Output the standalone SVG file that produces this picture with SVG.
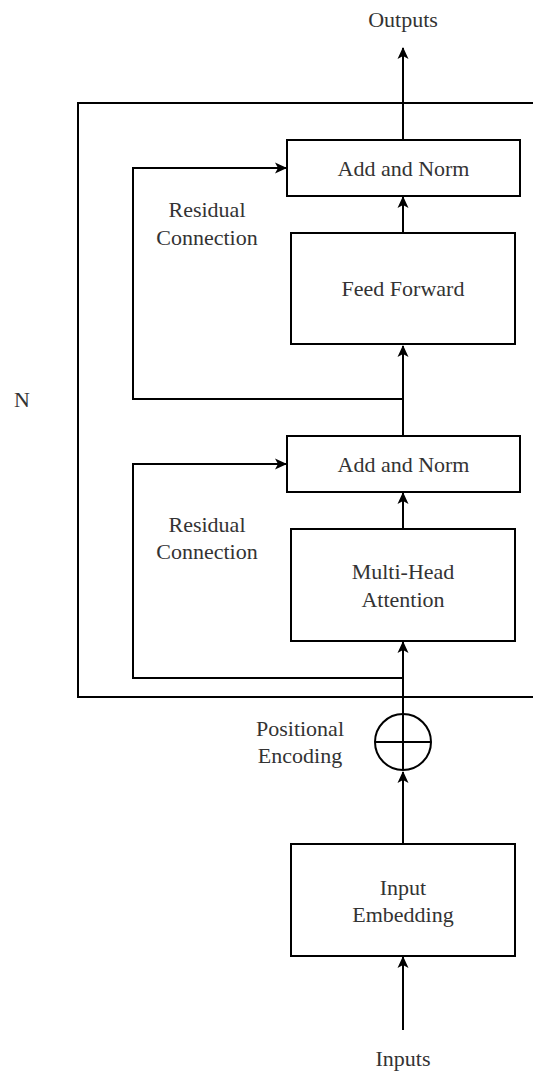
<svg xmlns="http://www.w3.org/2000/svg" width="533" height="1074" viewBox="0 0 533 1074">
  <style>
    .box { fill: #ffffff; stroke: #000000; stroke-width: 2; }
    .frame { fill: none; stroke: #000000; stroke-width: 2; }
    .wire { fill: none; stroke: #000000; stroke-width: 2; }
    .lbl { font-family: "Liberation Serif", "Times New Roman", serif; font-size: 22px; fill: #333333; text-anchor: middle; }
  </style>
  <defs>
    <marker id="arrow" markerUnits="userSpaceOnUse" viewBox="0 0 12 12" markerWidth="12" markerHeight="12" refX="11" refY="6" orient="auto">
      <path d="M0,0.5 L12,6 L0,11.5 L3,6 z" fill="#000000"/>
    </marker>
  </defs>
  <rect width="533" height="1074" fill="#ffffff"/>

  <!-- repeated layer frame (N) -->
  <g id="layer-frame">
    <rect class="frame" x="78" y="103" width="480" height="594"/>
    <text class="lbl" x="22" y="407">N</text>
  </g>

  <!-- connectors -->
  <g id="connectors">
    <line class="wire" x1="403" y1="1030" x2="403" y2="957" marker-end="url(#arrow)"/>
    <line class="wire" x1="403" y1="844" x2="403" y2="772" marker-end="url(#arrow)"/>
    <line class="wire" x1="403" y1="714" x2="403" y2="642" marker-end="url(#arrow)"/>
    <line class="wire" x1="403" y1="529" x2="403" y2="493" marker-end="url(#arrow)"/>
    <line class="wire" x1="403" y1="436" x2="403" y2="346" marker-end="url(#arrow)"/>
    <line class="wire" x1="403" y1="233" x2="403" y2="197" marker-end="url(#arrow)"/>
    <line class="wire" x1="403" y1="140" x2="403" y2="48" stroke="#444444" marker-end="url(#arrow)"/>
    <!-- residual paths -->
    <polyline class="wire" points="403,678 133,678 133,464 286,464" marker-end="url(#arrow)"/>
    <polyline class="wire" points="403,399 133,399 133,168 286,168" marker-end="url(#arrow)"/>
  </g>

  <g id="outputs-label">
    <text class="lbl" x="403" y="27">Outputs</text>
  </g>

  <g id="add-norm-top">
    <rect class="box" x="287" y="140" width="233" height="56"/>
    <text class="lbl" x="403.5" y="176">Add and Norm</text>
  </g>

  <g id="residual-label-top">
    <text class="lbl" x="207" y="217">Residual</text>
    <text class="lbl" x="207" y="245">Connection</text>
  </g>

  <g id="feed-forward">
    <rect class="box" x="291" y="233" width="224" height="111"/>
    <text class="lbl" x="403" y="296">Feed Forward</text>
  </g>

  <g id="add-norm-bottom">
    <rect class="box" x="287" y="436" width="233" height="56"/>
    <text class="lbl" x="403.5" y="472">Add and Norm</text>
  </g>

  <g id="residual-label-bottom">
    <text class="lbl" x="207" y="532">Residual</text>
    <text class="lbl" x="207" y="559">Connection</text>
  </g>

  <g id="multi-head-attention">
    <rect class="box" x="291" y="529" width="224" height="112"/>
    <text class="lbl" x="403" y="579">Multi-Head</text>
    <text class="lbl" x="403" y="607">Attention</text>
  </g>

  <g id="positional-encoding">
    <circle cx="403" cy="742" r="28" fill="#ffffff" stroke="#000000" stroke-width="2"/>
    <line x1="375" y1="742" x2="431" y2="742" stroke="#000000" stroke-width="2"/>
    <line x1="403" y1="714" x2="403" y2="770" stroke="#000000" stroke-width="2"/>
    <text class="lbl" x="300" y="736">Positional</text>
    <text class="lbl" x="300" y="763">Encoding</text>
  </g>

  <g id="input-embedding">
    <rect class="box" x="291" y="844" width="224" height="112"/>
    <text class="lbl" x="403" y="895">Input</text>
    <text class="lbl" x="403" y="922">Embedding</text>
  </g>

  <g id="inputs-label">
    <text class="lbl" x="403" y="1066">Inputs</text>
  </g>
</svg>
